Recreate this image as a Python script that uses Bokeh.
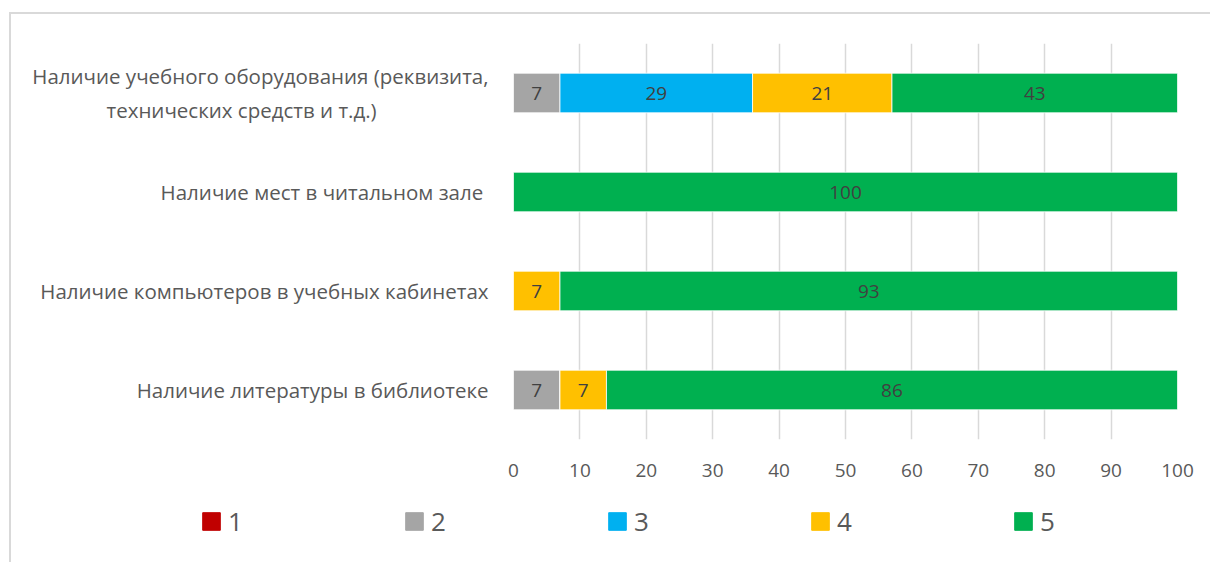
from bokeh.plotting import figure
from bokeh.models import ColumnDataSource, Legend, LegendItem, FactorRange, FixedTicker
from bokeh.layouts import column
from bokeh.embed import file_html
from bokeh.resources import INLINE
from bokeh.core.properties import value

NB = "\u00a0"
categories = [
    "Наличие литературы в библиотеке",
    "Наличие компьютеров в учебных кабинетах",
    "Наличие мест в читальном зале ",
    "Наличие учебного оборудования (реквизита,\nтехнических средств и т.д.)" + NB * 21,
]
series_names = ["1", "2", "3", "4", "5"]
s1 = [0, 0, 0, 0]
s2 = [7, 0, 0, 7]
s3 = [0, 0, 0, 29]
s4 = [7, 7, 0, 21]
s5 = [86, 93, 100, 43]
colors = ["#C00000", "#A5A5A5", "#00B0F0", "#FFC000", "#00B050"]
x_ticks = [0, 10, 20, 30, 40, 50, 60, 70, 80, 90, 100]

FONT = "Open Sans"
series = [s1, s2, s3, s4, s5]
stack_keys = ["s" + n for n in series_names]

data = {"cat": categories}
for n, s in zip(series_names, series):
    data["s" + n] = s
src = ColumnDataSource(data)

W = 1199
p = figure(
    y_range=FactorRange(*categories, range_padding=0),
    x_range=(0, 100),
    width=W, height=476,
    output_backend="svg", toolbar_location=None,
    min_border_left=502, min_border_right=33,
    min_border_top=29, min_border_bottom=51,
)
p.outline_line_color = None

p.hbar_stack(stack_keys, y="cat", height=0.4, color=colors, source=src,
             line_color="white", line_width=0.8)

# data labels
lx, ly, lt = [], [], []
for i, c in enumerate(categories):
    left = 0
    for s in series:
        v = s[i]
        if v > 0:
            lx.append(left + v / 2)
            ly.append(c)
            lt.append(str(v))
        left += v
p.text(x=lx, y=ly, text=lt, text_align="center", text_baseline="middle",
       text_font=value(FONT), text_font_size="19px", text_color="#404040")

p.xaxis.ticker = FixedTicker(ticks=x_ticks)
p.xaxis.axis_line_color = None
p.xaxis.major_tick_line_color = None
p.xaxis.minor_tick_line_color = None
p.xaxis.major_label_text_font = FONT
p.xaxis.major_label_text_font_size = "19px"
p.xaxis.major_label_text_color = "#595959"
p.xaxis.major_label_standoff = 18

p.yaxis.axis_line_color = None
p.yaxis.major_tick_line_color = None
p.yaxis.minor_tick_line_color = None
p.yaxis.major_label_text_font = FONT
p.yaxis.major_label_text_font_size = "20.5px"
p.yaxis.major_label_text_color = "#595959"
p.yaxis.major_label_standoff = 19

p.ygrid.grid_line_color = None
p.xgrid.ticker = FixedTicker(ticks=x_ticks)
p.xgrid.grid_line_color = "#d9d9d9"
p.xgrid.grid_line_width = 1.5

# legend panel (separate figure so the legend may sit left of the plot frame)
q = figure(
    y_range=FactorRange(*categories), x_range=(0, 100),
    width=W, height=72, output_backend="svg", toolbar_location=None,
    min_border=0, x_axis_location=None, y_axis_location=None,
)
q.frame_align = False
q.outline_line_color = None
q.grid.grid_line_color = None
lrs = q.hbar_stack(stack_keys, y="cat", height=0.4, color=colors, source=src)
for r in lrs:
    r.visible = False
legend = Legend(
    items=[LegendItem(label=n, renderers=[r]) for n, r in zip(series_names, lrs)],
    orientation="horizontal", location=(189, 23),
    glyph_width=22, glyph_height=22, label_standoff=6, spacing=155,
    padding=0, margin=0, border_line_color=None, background_fill_alpha=0,
    label_text_font=FONT, label_text_font_size="26px", label_text_color="#595959",
)
q.add_layout(legend)

layout = column(p, q, spacing=0)
layout.styles = {"border-left": "2px solid #d9d9d9", "border-top": "2px solid #d9d9d9",
                 "margin-left": "9px", "margin-top": "12px"}

open("out.html", "w").write(file_html(layout, INLINE))
